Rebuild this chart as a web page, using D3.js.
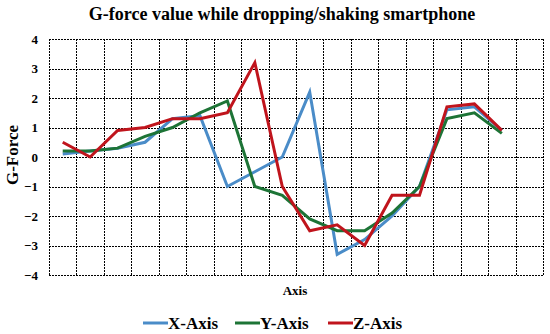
<!DOCTYPE html>
<html>
<head>
<meta charset="utf-8">
<script src="https://d3js.org/d3.v7.min.js"></script>
<style>
  body { margin: 0; background: #fff; }
  text { font-family: "Liberation Serif", "Times New Roman", serif; font-weight: bold; fill: #000; }
</style>
</head>
<body>
<div id="chart"></div>
<script>
// 18 category slots on the x axis, 17 samples recorded
var categories = d3.range(1, 19);
var xAxisValues = [0.1, 0.2, 0.3, 0.5, 1.3, 1.4, -1.0, -0.5, 0.0, 2.2, -3.3, -2.8, -2.0, -1.0, 1.6, 1.7, 0.9];
var yAxisValues = [0.2, 0.2, 0.3, 0.7, 1.0, 1.5, 1.9, -1.0, -1.3, -2.1, -2.5, -2.5, -1.9, -1.0, 1.3, 1.5, 0.8];
var zAxisValues = [0.5, 0.0, 0.9, 1.0, 1.3, 1.3, 1.5, 3.2, -1.0, -2.5, -2.3, -3.0, -1.3, -1.3, 1.7, 1.8, 0.9];
var yTicks = [-4, -3, -2, -1, 0, 1, 2, 3, 4];

var series = [
    { name: "X-Axis", values: xAxisValues, color: "#4a8cc8" },
    { name: "Y-Axis", values: yAxisValues, color: "#1d7436" },
    { name: "Z-Axis", values: zAxisValues, color: "#c0141c" }
];

var svgWidth = 550;
var svgHeight = 334;

var margin = { top: 39, right: 7, bottom: 59, left: 49 };
var width = svgWidth - margin.left - margin.right;
var height = svgHeight - margin.top - margin.bottom;

var svg = d3.select("#chart")
    .append("svg")
    .attr("width", svgWidth)
    .attr("height", svgHeight);

var chartGroup = svg.append("g")
    .attr("transform", `translate(${margin.left}, ${margin.top})`);

var xScale = d3.scaleBand()
    .domain(categories)
    .range([0, width]);

var yScale = d3.scaleLinear()
    .domain([-4, 4])
    .range([height, 0]);

// gridlines
var grid = chartGroup.append("g")
    .attr("stroke", "#000")
    .attr("stroke-width", 1)
    .attr("stroke-dasharray", "2,1")
    .attr("fill", "none");

grid.selectAll(".hgrid")
    .data(yTicks)
    .enter()
    .append("line")
    .attr("x1", 0)
    .attr("x2", width)
    .attr("y1", d => Math.round(yScale(d)) + 0.5)
    .attr("y2", d => Math.round(yScale(d)) + 0.5);

grid.selectAll(".vgrid")
    .data(categories.concat(["end"]))
    .enter()
    .append("line")
    .attr("x1", d => Math.round(d === "end" ? width : xScale(d)) + 0.5)
    .attr("x2", d => Math.round(d === "end" ? width : xScale(d)) + 0.5)
    .attr("y1", 0)
    .attr("y2", height);

// y axis labels
var leftAxis = d3.axisLeft(yScale).tickValues(yTicks).tickSize(0).tickPadding(11);
var yAxisG = chartGroup.append("g").call(leftAxis);
yAxisG.select(".domain").remove();
yAxisG.selectAll("text")
    .attr("font-size", "13px")
    .attr("font-family", "Liberation Serif, serif")
    .attr("font-weight", "bold")
    .attr("fill", "#000");

// lines
var line = d3.line()
    .x((d, i) => xScale(categories[i]) + xScale.bandwidth() / 2)
    .y(d => yScale(d));

series.forEach(function(s) {
    chartGroup.append("path")
        .datum(s.values)
        .attr("fill", "none")
        .attr("stroke", s.color)
        .attr("stroke-width", 3)
        .attr("stroke-linejoin", "miter")
        .attr("d", line);
});

// title
svg.append("text")
    .attr("x", 282)
    .attr("y", 20)
    .attr("text-anchor", "middle")
    .attr("font-size", "18px")
    .text("G-force value while dropping/shaking smartphone");

// axis titles
svg.append("text")
    .attr("transform", "translate(18, 155) rotate(-90)")
    .attr("text-anchor", "middle")
    .attr("font-size", "17px")
    .text("G-Force");

svg.append("text")
    .attr("x", 295)
    .attr("y", 295)
    .attr("text-anchor", "middle")
    .attr("font-size", "13px")
    .text("Axis");

// legend
var legendX = [143, 235, 328];
var legend = svg.selectAll(".legend")
    .data(series)
    .enter()
    .append("g")
    .attr("transform", (d, i) => `translate(${legendX[i]}, 323)`);

legend.append("line")
    .attr("x1", 0)
    .attr("x2", 25)
    .attr("y1", 0)
    .attr("y2", 0)
    .attr("stroke", d => d.color)
    .attr("stroke-width", 3);

legend.append("text")
    .attr("x", 25)
    .attr("y", 6)
    .attr("font-size", "17px")
    .text(d => d.name);
</script>
</body>
</html>
